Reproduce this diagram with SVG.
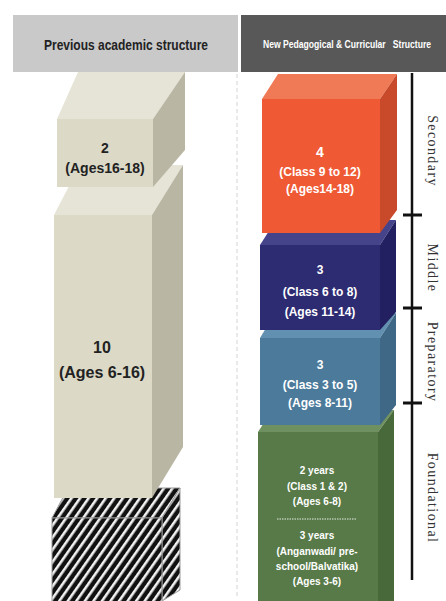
<svg xmlns="http://www.w3.org/2000/svg" width="446" height="601" viewBox="0 0 446 601">
<defs>
<pattern id="hatch" width="7" height="7" patternUnits="userSpaceOnUse" patternTransform="rotate(35)">
<rect width="7" height="7" fill="#111"/>
<rect x="0" y="0" width="2.6" height="7" fill="#f2f2f2"/>
</pattern>
<style>
.lbl{font-family:"Liberation Sans",Arial,sans-serif;font-weight:bold;text-anchor:middle}
.dark{fill:#222}
.wh{fill:#fff}
.stage{font-family:"Liberation Serif","Times New Roman",serif;font-size:14px;fill:#333;letter-spacing:1.4px;text-anchor:middle;dominant-baseline:central}
.tick{stroke:#111;stroke-width:3}
.hf{fill:url(#hatch);stroke:#9a9a9a;stroke-width:1}
</style>
</defs>
<rect width="446" height="601" fill="#fff"/>

<g id="header-previous">
<rect x="13" y="15" width="225" height="57" fill="#c9c9c9"/>
<text x="126" y="50" class="lbl dark" font-size="15" textLength="164" lengthAdjust="spacingAndGlyphs">Previous academic structure</text>
</g>
<g id="header-new">
<rect x="241" y="15" width="205" height="57" fill="#585858"/>
<text x="347" y="48" class="lbl wh" font-size="10.5" textLength="168" lengthAdjust="spacingAndGlyphs" xml:space="preserve">New Pedagogical &amp; Curricular   Structure</text>
</g>

<line x1="237" y1="74" x2="237" y2="596" stroke="#d4d4d4" stroke-width="1" stroke-dasharray="4 3"/>

<g id="old-pre">
<polygon class="hf" points="52,518 68,488 180,488 162,518"/>
<polygon class="hf" points="162,518 180,488 180,590 162,601"/>
<rect class="hf" x="52" y="518" width="110" height="84"/>
</g>

<g id="old-10">
<polygon points="54,215 80,165 183,165 152,215" fill="#e6e4d6"/>
<polygon points="152,215 183,165 183,447 152,498" fill="#b9b6a3"/>
<rect x="54" y="215" width="98" height="283" fill="#dcd9c7"/>
<text x="102" y="353" class="lbl dark" font-size="16">10</text>
<text x="102" y="378" class="lbl dark" font-size="16">(Ages 6-16)</text>
</g>

<g id="old-2">
<polygon points="57,119 78,72 185,72 153,119" fill="#e6e4d6"/>
<polygon points="153,119 185,72 185,150 153,187" fill="#b9b6a3"/>
<rect x="57" y="119" width="96" height="68" fill="#dcd9c7"/>
<text x="105" y="153" class="lbl dark" font-size="14">2</text>
<text x="105" y="173" class="lbl dark" font-size="14">(Ages16-18)</text>
</g>

<g id="foundational">
<polygon points="258,432 272,410 394,410 378,432" fill="#6f9160"/>
<polygon points="378,432 394,410 394,601 378,601" fill="#486a3b"/>
<rect x="258" y="432" width="120" height="169" fill="#577a48"/>
<text x="317" y="474" class="lbl wh" font-size="10">2 years</text>
<text x="317" y="490" class="lbl wh" font-size="10">(Class 1 &amp; 2)</text>
<text x="317" y="505" class="lbl wh" font-size="10">(Ages 6-8)</text>
<line x1="277" y1="519" x2="357" y2="519" stroke="#e8eee4" stroke-width="1.2" stroke-dasharray="1.5 1"/>
<text x="317" y="539" class="lbl wh" font-size="10">3 years</text>
<text x="317" y="555" class="lbl wh" font-size="10">(Anganwadi/ pre-</text>
<text x="317" y="570" class="lbl wh" font-size="10">school/Balvatika)</text>
<text x="317" y="585" class="lbl wh" font-size="10">(Ages 3-6)</text>
</g>

<g id="preparatory">
<polygon points="260,338 275,313 396,313 380,338" fill="#6290b0"/>
<polygon points="380,338 396,313 396,405 380,425" fill="#3e6886"/>
<rect x="260" y="338" width="120" height="87" fill="#4b7a9b"/>
<text x="320" y="369" class="lbl wh" font-size="12">3</text>
<text x="320" y="389" class="lbl wh" font-size="12">(Class 3 to 5)</text>
<text x="320" y="407" class="lbl wh" font-size="12">(Ages 8-11)</text>
</g>

<g id="middle">
<polygon points="260,245 276,220 396,220 380,245" fill="#45448a"/>
<polygon points="380,245 396,220 396,312 380,330" fill="#222060"/>
<rect x="260" y="245" width="120" height="85" fill="#2d2b72"/>
<text x="320" y="274" class="lbl wh" font-size="12">3</text>
<text x="320" y="296" class="lbl wh" font-size="12">(Class 6 to 8)</text>
<text x="320" y="316" class="lbl wh" font-size="12">(Ages 11-14)</text>
</g>

<g id="secondary">
<polygon points="262,99 278,74 397,74 380,99" fill="#f07a55"/>
<polygon points="380,99 397,74 397,210 380,233" fill="#c84a2a"/>
<rect x="262" y="99" width="118" height="134" fill="#ef5a35"/>
<text x="320" y="157" class="lbl wh" font-size="14">4</text>
<text x="320" y="176" class="lbl wh" font-size="12">(Class 9 to 12)</text>
<text x="320" y="193" class="lbl wh" font-size="12">(Ages14-18)</text>
</g>

<g id="connectors">
<line x1="412" y1="73" x2="412" y2="580" stroke="#111" stroke-width="2.5"/>
<line class="tick" x1="403" y1="215" x2="422" y2="215"/>
<line class="tick" x1="403" y1="308" x2="422" y2="308"/>
<line class="tick" x1="403" y1="403" x2="422" y2="403"/>
</g>

<g id="stage-labels">
<text class="stage" transform="translate(432,151) rotate(90)">Secondary</text>
<text class="stage" transform="translate(432,268) rotate(90)">Middle</text>
<text class="stage" transform="translate(432,362) rotate(90)">Preparatory</text>
<text class="stage" transform="translate(432,498) rotate(90)">Foundational</text>
</g>
</svg>
